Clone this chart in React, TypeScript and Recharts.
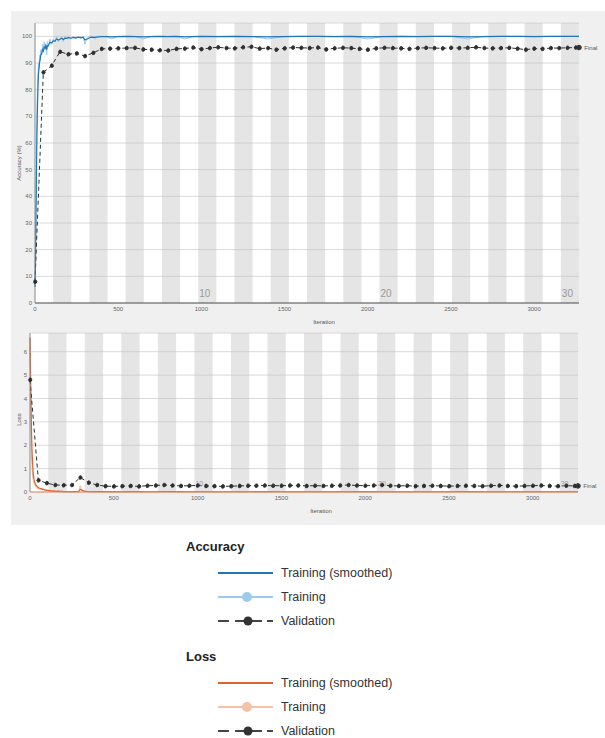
import { ComposedChart, Line, XAxis, YAxis, CartesianGrid, ReferenceArea, ReferenceDot } from 'recharts'

// training log, sampled iterations
const trainIter = [
  0, 3, 6, 9, 12, 15, 18, 21, 24, 27, 30, 35, 40, 45, 50, 55, 60, 65, 70, 75,
  80, 90, 100, 110, 120, 130, 140, 150, 160, 170, 180, 190, 200, 215, 230, 245, 260, 275, 290, 300,
  310, 325, 340, 360, 380, 400, 430, 460, 500, 550, 600, 650, 700, 750, 800, 850, 900, 950, 1000, 1100,
  1200, 1300, 1400, 1500, 1600, 1700, 1800, 1900, 2000, 2100, 2200, 2300, 2400, 2500, 2600, 2700, 2800, 2900, 3000, 3100,
  3200, 3270,
]
const accRaw = [
  6, 22, 45, 62, 74, 82, 86, 90, 88, 93, 91, 95, 93, 97, 94, 98, 95, 97, 93, 98,
  96, 99, 97, 99, 98, 100, 98, 99, 100, 98, 100, 99, 100, 99, 100, 99, 100, 99, 100, 97,
  99, 100, 100, 99, 100, 100, 100, 99, 100, 100, 100, 99, 100, 100, 100, 100, 99, 100, 100, 100,
  100, 100, 99, 100, 100, 100, 100, 100, 99, 100, 100, 100, 100, 100, 99, 100, 100, 100, 100, 100,
  100, 100,
]
const accSmooth = [
  6, 15, 32, 50, 64, 74, 81, 86, 88, 90, 91, 93, 93.5, 95, 94.5, 96, 95.5, 96.5, 95, 96.5,
  96.5, 97.8, 97.5, 98.3, 98.2, 99, 98.6, 98.9, 99.3, 98.8, 99.3, 99.2, 99.5, 99.3, 99.6, 99.4, 99.7, 99.5, 99.7, 98.6,
  98.9, 99.4, 99.7, 99.6, 99.8, 99.9, 99.9, 99.8, 99.9, 100, 99.9, 99.8, 99.9, 100, 99.9, 100, 99.8, 99.9, 100, 99.9,
  100, 99.9, 99.8, 99.9, 100, 100, 99.9, 100, 99.8, 99.9, 100, 99.9, 100, 100, 99.8, 99.9, 100, 100, 99.9, 100,
  100, 100,
]
const lossRaw = [
  6.6, 4.4, 2.7, 1.6, 1.05, 0.72, 0.55, 0.42, 0.4, 0.3, 0.3, 0.2, 0.24, 0.13, 0.18, 0.1, 0.15, 0.1, 0.17, 0.08,
  0.11, 0.05, 0.08, 0.04, 0.06, 0.02, 0.05, 0.03, 0.02, 0.05, 0.02, 0.03, 0.01, 0.03, 0.01, 0.02, 0.01, 0.02, 0.01, 0.28,
  0.04, 0.01, 0.01, 0.02, 0.01, 0.01, 0.01, 0.02, 0.01, 0.01, 0.01, 0.02, 0.01, 0.01, 0.03, 0.01, 0.02, 0.01, 0.01, 0.01,
  0.01, 0.01, 0.02, 0.01, 0.01, 0.01, 0.01, 0.01, 0.02, 0.01, 0.01, 0.01, 0.01, 0.01, 0.02, 0.01, 0.01, 0.01, 0.01, 0.01,
  0.01, 0.01,
]
const lossSmooth = [
  6.6, 5.2, 3.8, 2.6, 1.8, 1.25, 0.9, 0.68, 0.55, 0.45, 0.38, 0.3, 0.27, 0.21, 0.2, 0.16, 0.16, 0.13, 0.14, 0.11,
  0.11, 0.08, 0.08, 0.06, 0.06, 0.04, 0.05, 0.04, 0.03, 0.04, 0.03, 0.03, 0.02, 0.02, 0.02, 0.02, 0.02, 0.02, 0.02, 0.12,
  0.08, 0.04, 0.03, 0.02, 0.02, 0.02, 0.015, 0.015, 0.015, 0.01, 0.015, 0.015, 0.01, 0.01, 0.02, 0.015, 0.015, 0.01, 0.01, 0.01,
  0.01, 0.01, 0.015, 0.01, 0.01, 0.01, 0.01, 0.01, 0.015, 0.01, 0.01, 0.01, 0.01, 0.01, 0.015, 0.01, 0.01, 0.01, 0.01, 0.01,
  0.01, 0.01,
]

// validation every 50 iterations
const valIter = [
  0, 50, 100, 150, 200, 250, 300, 350, 400, 450, 500, 550, 600, 650, 700, 750, 800, 850, 900, 950,
  1000, 1050, 1100, 1150, 1200, 1250, 1300, 1350, 1400, 1450, 1500, 1550, 1600, 1650, 1700, 1750, 1800, 1850, 1900, 1950,
  2000, 2050, 2100, 2150, 2200, 2250, 2300, 2350, 2400, 2450, 2500, 2550, 2600, 2650, 2700, 2750, 2800, 2850, 2900, 2950,
  3000, 3050, 3100, 3150, 3200, 3250,
]
const valAcc = [
  8, 86.5, 89, 94.2, 93.3, 93.6, 92.6, 93.8, 95.3, 95.4, 95.5, 95.6, 95.7, 95.1, 95.0, 94.8, 94.7, 95.3, 95.4, 95.8,
  95.2, 95.6, 95.9, 95.6, 95.5, 95.9, 96.1, 95.4, 95.6, 95.0, 95.5, 95.8, 95.7, 95.6, 95.8, 95.1, 95.5, 95.7, 95.6, 95.3,
  95.0, 95.5, 95.7, 95.6, 95.5, 95.3, 95.6, 95.7, 95.6, 95.5, 95.7, 95.6, 95.7, 95.9, 95.6, 95.5, 95.6, 95.7, 95.4, 95.0,
  95.4, 95.3, 95.6, 95.6, 95.7, 95.8,
]
const valLoss = [
  4.8, 0.5, 0.38, 0.3, 0.29, 0.3, 0.62, 0.4, 0.3, 0.25, 0.24, 0.25, 0.26, 0.24, 0.27, 0.28, 0.3, 0.28, 0.26, 0.27,
  0.28, 0.26, 0.25, 0.24, 0.25, 0.26, 0.27, 0.27, 0.28, 0.27, 0.27, 0.28, 0.28, 0.26, 0.27, 0.26, 0.27, 0.28, 0.3, 0.28,
  0.27, 0.28, 0.3, 0.27, 0.26, 0.27, 0.25, 0.26, 0.27, 0.26, 0.25, 0.26, 0.27, 0.26, 0.25, 0.27, 0.28, 0.26, 0.25, 0.26,
  0.27, 0.28, 0.26, 0.25, 0.27, 0.26,
]
const finalIter = 3270
const finalAcc = 95.8
const finalLoss = 0.26

const maxIter = 3270
const itersPerEpoch = 109
const shadedEpochs = [2, 4, 6, 8, 10, 12, 14, 16, 18, 20, 22, 24, 26, 28, 30]
const labelledEpochs = [10, 20, 30]
const iterTicks = [0, 500, 1000, 1500, 2000, 2500, 3000]
const accTicks = [0, 10, 20, 30, 40, 50, 60, 70, 80, 90, 100]
const lossTicks = [0, 1, 2, 3, 4, 5, 6]

const trainData = trainIter.map((it, i) => ({
  it,
  accRaw: accRaw[i],
  accSmooth: accSmooth[i],
  lossRaw: lossRaw[i],
  lossSmooth: lossSmooth[i],
}))
const valData = [
  ...valIter.map((it, i) => ({ it, acc: valAcc[i], loss: valLoss[i] })),
  { it: finalIter, acc: finalAcc, loss: finalLoss },
]

const BLUE = '#1f77b8'
const BLUE_LIGHT = '#9fcbea'
const ORANGE = '#e0622f'
const ORANGE_LIGHT = '#f3c1a6'
const VAL = '#2e2e2e'
const tickStyle = { fontSize: 6, fill: '#666' }

const EpochLabel = ({ viewBox, value, size }: any) => (
  <text x={viewBox.x + 1} y={viewBox.y - 6} fontSize={size} fill="#9a9a9a" fontFamily="Liberation Sans, Arial">
    {value}
  </text>
)

function Bands() {
  return shadedEpochs.map((e) => (
    <ReferenceArea
      key={e}
      x1={(e - 1) * itersPerEpoch}
      x2={e * itersPerEpoch}
      fill="#bdbdbd"
      fillOpacity={0.4}
      stroke="none"
    />
  ))
}

function LegendRow({ kind, color, label, y }: any) {
  return (
    <div style={{ position: 'absolute', left: 218, top: y - 10, height: 20, display: 'flex', alignItems: 'center' }}>
      <svg width={56} height={20}>
        {kind === 'val' ? (
          <>
            <line x1={0} y1={10} x2={55} y2={10} stroke="#444" strokeWidth={2} strokeDasharray="11 6 27 5 6" />
            <circle cx={30} cy={10} r={4.5} fill="#333" />
          </>
        ) : (
          <>
            <line x1={0} y1={10} x2={55} y2={10} stroke={color} strokeWidth={2} />
            {kind === 'raw' && <circle cx={29} cy={10} r={5} fill={color} />}
          </>
        )}
      </svg>
      <span style={{ marginLeft: 7, fontSize: 12.5, color: '#333' }}>{label}</span>
    </div>
  )
}

export default function App() {
  return (
    <div
      style={{
        position: 'absolute',
        left: 0,
        top: 0,
        width: 605,
        height: 738,
        background: '#fff',
        fontFamily: '"Liberation Sans", Arial, sans-serif',
      }}
    >
      <div style={{ position: 'absolute', left: 11, top: 11, width: 594, height: 514, background: '#f0f0f0' }} />

      {/* accuracy */}
      <div style={{ position: 'absolute', left: 11, top: 11 }}>
        <ComposedChart width={594} height={320} margin={{ top: 12, right: 26, bottom: 0, left: 0 }}>
          <CartesianGrid vertical={false} stroke="#dadada" fill="#ffffff" />
          {Bands()}
          <XAxis
            dataKey="it"
            type="number"
            domain={[0, maxIter]}
            ticks={iterTicks}
            height={28}
            tick={tickStyle}
            tickLine={false}
            tickSize={3}
            tickMargin={1}
            axisLine={{ stroke: '#555' }}
            label={{ value: 'Iteration', position: 'insideBottom', offset: 7, dx: 17, fontSize: 6, fill: '#555' }}
          />
          <YAxis
            type="number"
            domain={[0, 105]}
            ticks={accTicks}
            width={24}
            tick={tickStyle}
            tickLine={false}
            tickSize={2}
            tickMargin={1}
            axisLine={{ stroke: '#888' }}
            label={{ value: 'Accuracy (%)', angle: -90, position: 'insideLeft', offset: 8, fontSize: 6, fill: '#555', style: { textAnchor: 'middle' } }}
          />
          {labelledEpochs.map((e) => (
            <ReferenceDot key={e} x={(e - 1) * itersPerEpoch} y={0} r={0} label={<EpochLabel value={String(e)} size={10} />} />
          ))}
          <Line data={trainData} dataKey="accRaw" stroke={BLUE_LIGHT} strokeWidth={1} dot={false} isAnimationActive={false} />
          <Line data={trainData} dataKey="accSmooth" stroke={BLUE} strokeWidth={1.2} dot={false} isAnimationActive={false} />
          <Line
            data={valData}
            dataKey="acc"
            stroke={VAL}
            strokeWidth={1}
            strokeDasharray="4 3"
            dot={{ r: 1.8, fill: VAL, stroke: VAL }}
            isAnimationActive={false}
          />
          <ReferenceDot
            x={finalIter}
            y={finalAcc}
            r={2.3}
            fill="none"
            stroke={VAL}
            label={{ value: 'Final', position: 'right', offset: 3, fontSize: 6, fill: '#555' }}
          />
        </ComposedChart>
      </div>

      {/* loss */}
      <div style={{ position: 'absolute', left: 11, top: 322 }}>
        <ComposedChart width={594} height={203} margin={{ top: 11, right: 27, bottom: 0, left: 0 }}>
          <CartesianGrid vertical={false} stroke="#dadada" fill="#ffffff" />
          {Bands()}
          <XAxis
            dataKey="it"
            type="number"
            domain={[0, maxIter]}
            ticks={iterTicks}
            height={33}
            tick={tickStyle}
            tickLine={false}
            tickSize={3}
            tickMargin={1}
            axisLine={{ stroke: '#e08a66' }}
            label={{ value: 'Iteration', position: 'insideBottom', offset: 12, dx: 17, fontSize: 6, fill: '#555' }}
          />
          <YAxis
            type="number"
            domain={[0, 6.8]}
            ticks={lossTicks}
            width={19}
            tick={tickStyle}
            tickLine={false}
            tickSize={2}
            tickMargin={1}
            axisLine={{ stroke: '#888' }}
            label={{ value: 'Loss', angle: -90, position: 'insideLeft', offset: 8, dy: 7, fontSize: 6, fill: '#555', style: { textAnchor: 'middle' } }}
          />
          {labelledEpochs.map((e) => (
            <ReferenceDot key={e} x={(e - 1) * itersPerEpoch} y={0} r={0} label={<EpochLabel value={String(e)} size={7} />} />
          ))}
          <Line data={trainData} dataKey="lossRaw" stroke={ORANGE_LIGHT} strokeWidth={1} dot={false} isAnimationActive={false} />
          <Line data={trainData} dataKey="lossSmooth" stroke={ORANGE} strokeWidth={1.2} dot={false} isAnimationActive={false} />
          <Line
            data={valData}
            dataKey="loss"
            stroke={VAL}
            strokeWidth={1}
            strokeDasharray="4 3"
            dot={{ r: 1.8, fill: VAL, stroke: VAL }}
            isAnimationActive={false}
          />
          <ReferenceDot
            x={finalIter}
            y={finalLoss}
            r={2.3}
            fill="none"
            stroke={VAL}
            label={{ value: 'Final', position: 'right', offset: 3, fontSize: 6, fill: '#555' }}
          />
        </ComposedChart>
      </div>

      {/* legend */}
      <div style={{ position: 'absolute', left: 186, top: 539, fontWeight: 'bold', fontSize: 13, color: '#222' }}>Accuracy</div>
      <LegendRow kind="smooth" color={BLUE} label="Training (smoothed)" y={573} />
      <LegendRow kind="raw" color={BLUE_LIGHT} label="Training" y={597} />
      <LegendRow kind="val" label="Validation" y={621} />
      <div style={{ position: 'absolute', left: 186, top: 649, fontWeight: 'bold', fontSize: 13, color: '#222' }}>Loss</div>
      <LegendRow kind="smooth" color={ORANGE} label="Training (smoothed)" y={683} />
      <LegendRow kind="raw" color={ORANGE_LIGHT} label="Training" y={707} />
      <LegendRow kind="val" label="Validation" y={731} />
    </div>
  )
}
